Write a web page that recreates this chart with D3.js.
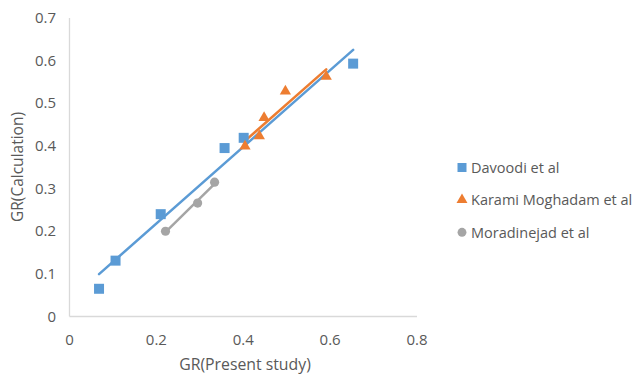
<!DOCTYPE html>
<html>
<head>
<meta charset="utf-8">
<script src="https://cdn.jsdelivr.net/npm/d3@7"></script>
<style>
  html, body { margin: 0; padding: 0; background: #ffffff; }
  svg text { font-family: "Open Sans", "Noto Sans", sans-serif; fill: #595959; }
</style>
</head>
<body>
<svg id="chart" width="636" height="375"></svg>
<script>
// GR values: present study (x) versus calculated (y) for each source
const davoodiX = [0.068, 0.106, 0.210, 0.357, 0.401, 0.653];
const davoodiY = [0.065, 0.131, 0.240, 0.395, 0.419, 0.593];
const karamiX = [0.404, 0.437, 0.448, 0.497, 0.591];
const karamiY = [0.399, 0.423, 0.466, 0.528, 0.563];
const moradiX = [0.221, 0.295, 0.334];
const moradiY = [0.200, 0.266, 0.315];

const seriesNames = ["Davoodi et al", "Karami Moghadam et al", "Moradinejad et al"];
const xTicks = [0, 0.2, 0.4, 0.6, 0.8];
const yTicks = [0, 0.1, 0.2, 0.3, 0.4, 0.5, 0.6, 0.7];

const series = [
  { name: seriesNames[0], xs: davoodiX, ys: davoodiY, color: "#5B9BD5", symbol: d3.symbolSquare, size: 100, legendSize: 81 },
  { name: seriesNames[1], xs: karamiX, ys: karamiY, color: "#ED7D31", symbol: d3.symbolTriangle, size: 55, legendSize: 52 },
  { name: seriesNames[2], xs: moradiX, ys: moradiY, color: "#A5A5A5", symbol: d3.symbolCircle, size: 66, legendSize: 62 }
];

const svg = d3.select("#chart");
const x = d3.scaleLinear().domain([0, 0.8]).range([69.5, 417]);
const y = d3.scaleLinear().domain([0, 0.7]).range([316.5, 18]);

// axis lines
svg.append("line").attr("x1", x(0)).attr("x2", x(0.8)).attr("y1", y(0)).attr("y2", y(0))
  .attr("stroke", "#D9D9D9").attr("stroke-width", 1.3);
svg.append("line").attr("x1", x(0)).attr("x2", x(0)).attr("y1", y(0)).attr("y2", y(0.7))
  .attr("stroke", "#D9D9D9").attr("stroke-width", 1.3);

// tick labels
svg.append("g").selectAll("text").data(xTicks).join("text")
  .attr("x", d => x(d)).attr("y", 344.5)
  .attr("text-anchor", "middle").attr("font-size", 15)
  .text(d => d === 0 ? "0" : d.toFixed(1));
svg.append("g").selectAll("text").data(yTicks).join("text")
  .attr("x", 56).attr("y", d => y(d) + 5)
  .attr("text-anchor", "end").attr("font-size", 15)
  .text(d => d === 0 ? "0" : d.toFixed(1));

// axis titles
svg.append("text").attr("x", 245).attr("y", 370).attr("text-anchor", "middle")
  .attr("font-size", 15.8).text("GR(Present study)");
svg.append("text").attr("transform", "translate(23,167) rotate(-90)").attr("text-anchor", "middle")
  .attr("font-size", 15.5).text("GR(Calculation)");

// least-squares trendline for each series, spanning its x range
function fit(xs, ys) {
  const mx = d3.mean(xs), my = d3.mean(ys);
  const sxy = d3.sum(xs, (v, i) => (v - mx) * (ys[i] - my));
  const sxx = d3.sum(xs, v => (v - mx) * (v - mx));
  const b = sxy / sxx;
  return { b, a: my - b * mx };
}

const plot = svg.append("g");
series.forEach(s => {
  const { a, b } = fit(s.xs, s.ys);
  const x0 = d3.min(s.xs), x1 = d3.max(s.xs);
  plot.append("line")
    .attr("x1", x(x0)).attr("y1", y(a + b * x0))
    .attr("x2", x(x1)).attr("y2", y(a + b * x1))
    .attr("stroke", s.color).attr("stroke-width", 2.5).attr("stroke-linecap", "round");
});
series.forEach(s => {
  plot.append("g").selectAll("path").data(s.xs.map((v, i) => [v, s.ys[i]])).join("path")
    .attr("d", d3.symbol().type(s.symbol).size(s.size))
    .attr("transform", d => `translate(${x(d[0])},${y(d[1])})`)
    .attr("fill", s.color);
});

// legend
const legend = svg.append("g");
series.forEach((s, i) => {
  const base = 173 + i * 32.4;
  legend.append("path")
    .attr("d", d3.symbol().type(s.symbol).size(s.legendSize))
    .attr("transform", `translate(462,${base - 5.5})`)
    .attr("fill", s.color);
  legend.append("text").attr("x", 471).attr("y", base)
    .attr("font-size", 14.5)
    .text(s.name);
});
</script>
</body>
</html>
